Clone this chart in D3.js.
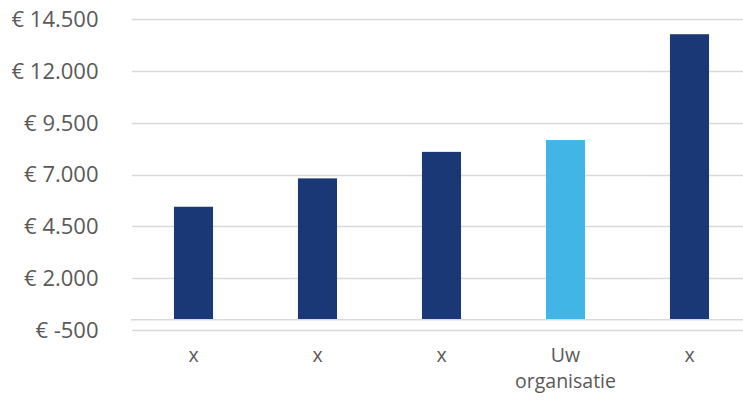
<!DOCTYPE html>
<html>
<head>
<meta charset="utf-8">
<script src="https://cdn.jsdelivr.net/npm/d3@7"></script>
<style>
html, body { margin: 0; padding: 0; background: #fff; }
svg { display: block; }
text { font-family: "Open Sans", "Noto Sans", sans-serif; fill: #595959; }
</style>
</head>
<body>
<svg id="chart" width="743" height="401"></svg>
<script>
const categories = ["x", "x", "x", "Uw organisatie", "x"];
const values = [5450, 6820, 8100, 8670, 13780];
const highlight = [false, false, false, true, false];
const yTicks = [-500, 2000, 4500, 7000, 9500, 12000, 14500];

const svg = d3.select("#chart");
const W = 743;

const y = d3.scaleLinear().domain([-500, 14500]).range([330, 19.3]);
const x = d3.scaleBand().domain(d3.range(categories.length)).range([131.5, 751.5]).paddingInner(0.685).paddingOuter(0.3425);

const fmt = v => "€ " + d3.format(",")(v).replace(/,/g, ".").replace("\u2212", "-");

// gridlines
svg.append("g").selectAll("line").data(yTicks).join("line")
  .attr("x1", 132).attr("x2", W)
  .attr("y1", d => Math.round(y(d)) + 0.5).attr("y2", d => Math.round(y(d)) + 0.5)
  .attr("stroke", "#d9d9d9").attr("stroke-width", 1.5);

// y labels
svg.append("g").selectAll("text").data(yTicks).join("text")
  .attr("x", 98.5).attr("y", d => y(d))
  .attr("dy", "0.35em").attr("text-anchor", "end")
  .style("font-size", "22px")
  .text(fmt);

// bars
svg.append("g").selectAll("rect").data(values).join("rect")
  .attr("x", (d, i) => x(i))
  .attr("width", x.bandwidth())
  .attr("y", d => y(d))
  .attr("height", d => y(0) - y(d))
  .attr("fill", (d, i) => highlight[i] ? "#41b6e6" : "#1b3876");

// zero axis line
svg.append("line")
  .attr("x1", 131).attr("x2", W)
  .attr("y1", y(0)).attr("y2", y(0))
  .attr("stroke", "#d9d9d9").attr("stroke-width", 1.5);

// x labels
const xl = svg.append("g").selectAll("text").data(categories).join("text")
  .attr("text-anchor", "middle")
  .style("font-size", "19.5px");
xl.each(function(d, i) {
  const words = d.split(" ");
  const t = d3.select(this);
  words.forEach((w, k) => {
    t.append("tspan").attr("x", x(i) + x.bandwidth() / 2).attr("y", 362 + k * 26).text(w);
  });
});
</script>
</body>
</html>
